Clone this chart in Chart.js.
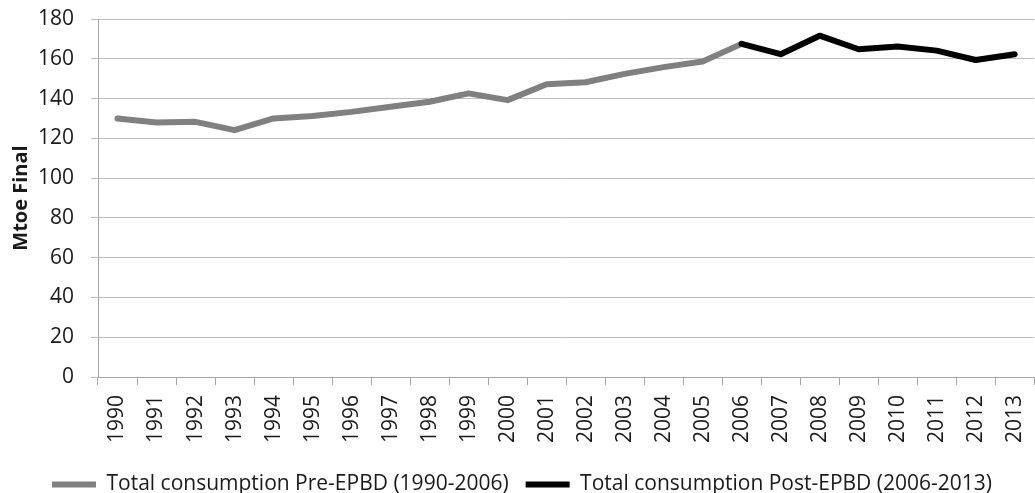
<!DOCTYPE html>
<html>
<head>
<meta charset="utf-8">
<script src="https://cdn.jsdelivr.net/npm/chart.js@4.4.0/dist/chart.umd.min.js"></script>
<style>
  html, body { margin: 0; padding: 0; background: #fff; overflow: hidden; }
  #wrap { width: 1050px; height: 493px; }
</style>
</head>
<body>
<div id="wrap"><canvas id="myChart" width="1050" height="493"></canvas></div>
<script>
// years on the x axis
const years = ['1990', '1991', '1992', '1993', '1994', '1995', '1996', '1997', '1998', '1999', '2000', '2001',
               '2002', '2003', '2004', '2005', '2006', '2007', '2008', '2009', '2010', '2011', '2012', '2013']

// Mtoe final consumption
const preEpbd = [130.0, 128.0, 128.3, 124.1, 130.0, 131.2, 133.3, 135.9, 138.4, 142.6, 139.2, 147.2,
                 148.2, 152.4, 155.8, 158.6, 167.5, null, null, null, null, null, null, null]
const postEpbd = [null, null, null, null, null, null, null, null, null, null, null, null,
                  null, null, null, null, 167.5, 162.3, 171.6, 164.8, 166.2, 164.1, 159.4, 162.3]

const yMin = 0
const yMax = 180
const yStep = 20

Chart.defaults.font.family = "'Open Sans', sans-serif"
Chart.defaults.font.size = 21
Chart.defaults.color = '#1a1a1a'

let ctx = document.getElementById('myChart').getContext('2d')

const lineChart = new Chart(ctx, {
    type: 'line',
    data: {
        labels: years,
        datasets: [{
            label: 'Total consumption Pre-EPBD (1990-2006)',
            data: preEpbd,
            borderColor: '#808080',
            backgroundColor: '#808080',
            borderWidth: 6,
            borderCapStyle: 'round',
            borderJoinStyle: 'round',
            pointRadius: 0,
            tension: 0,
            order: 1
        }, {
            label: 'Total consumption Post-EPBD (2006-2013)',
            data: postEpbd,
            borderColor: '#000000',
            backgroundColor: '#000000',
            borderWidth: 6,
            borderCapStyle: 'round',
            borderJoinStyle: 'round',
            pointRadius: 0,
            tension: 0,
            order: 0 // black line on top
        }]
    },
    options: {
        responsive: false,
        animation: false,
        layout: {
            padding: { top: 19, right: 6, left: 0, bottom: -12 }
        },
        scales: {
            x: {
                offset: true,
                grid: {
                    display: true,
                    drawOnChartArea: false,
                    drawTicks: true,
                    tickLength: 8,
                    color: '#a6a6a6',
                    offset: true
                },
                border: { color: '#a6a6a6' },
                ticks: {
                    autoSkip: false,
                    maxRotation: 90,
                    minRotation: 90,
                    padding: 10
                },
                afterFit: s => { s.height = 80 }
            },
            y: {
                min: yMin,
                max: yMax,
                grid: {
                    color: '#bcbcbc',
                    tickLength: 7
                },
                border: { color: '#a6a6a6' },
                ticks: {
                    stepSize: yStep,
                    padding: 17
                },
                title: {
                    display: true,
                    text: 'Mtoe Final',
                    font: { size: 20, weight: 'bold' },
                    padding: { top: 9, bottom: 0 }
                },
                afterFit: s => {
                    s.width = 98
                    // big label padding should not push the plot down
                    s.paddingTop = 0
                    s.paddingBottom = 0
                }
            }
        },
        plugins: {
            legend: {
                position: 'bottom',
                labels: {
                    usePointStyle: true,
                    pointStyle: 'line',
                    pointStyleWidth: 44,
                    boxHeight: 6,
                    padding: 17,
                    sort: (a, b) => a.datasetIndex - b.datasetIndex
                }
            },
            tooltip: { enabled: false }
        }
    }
})
</script>
</body>
</html>
